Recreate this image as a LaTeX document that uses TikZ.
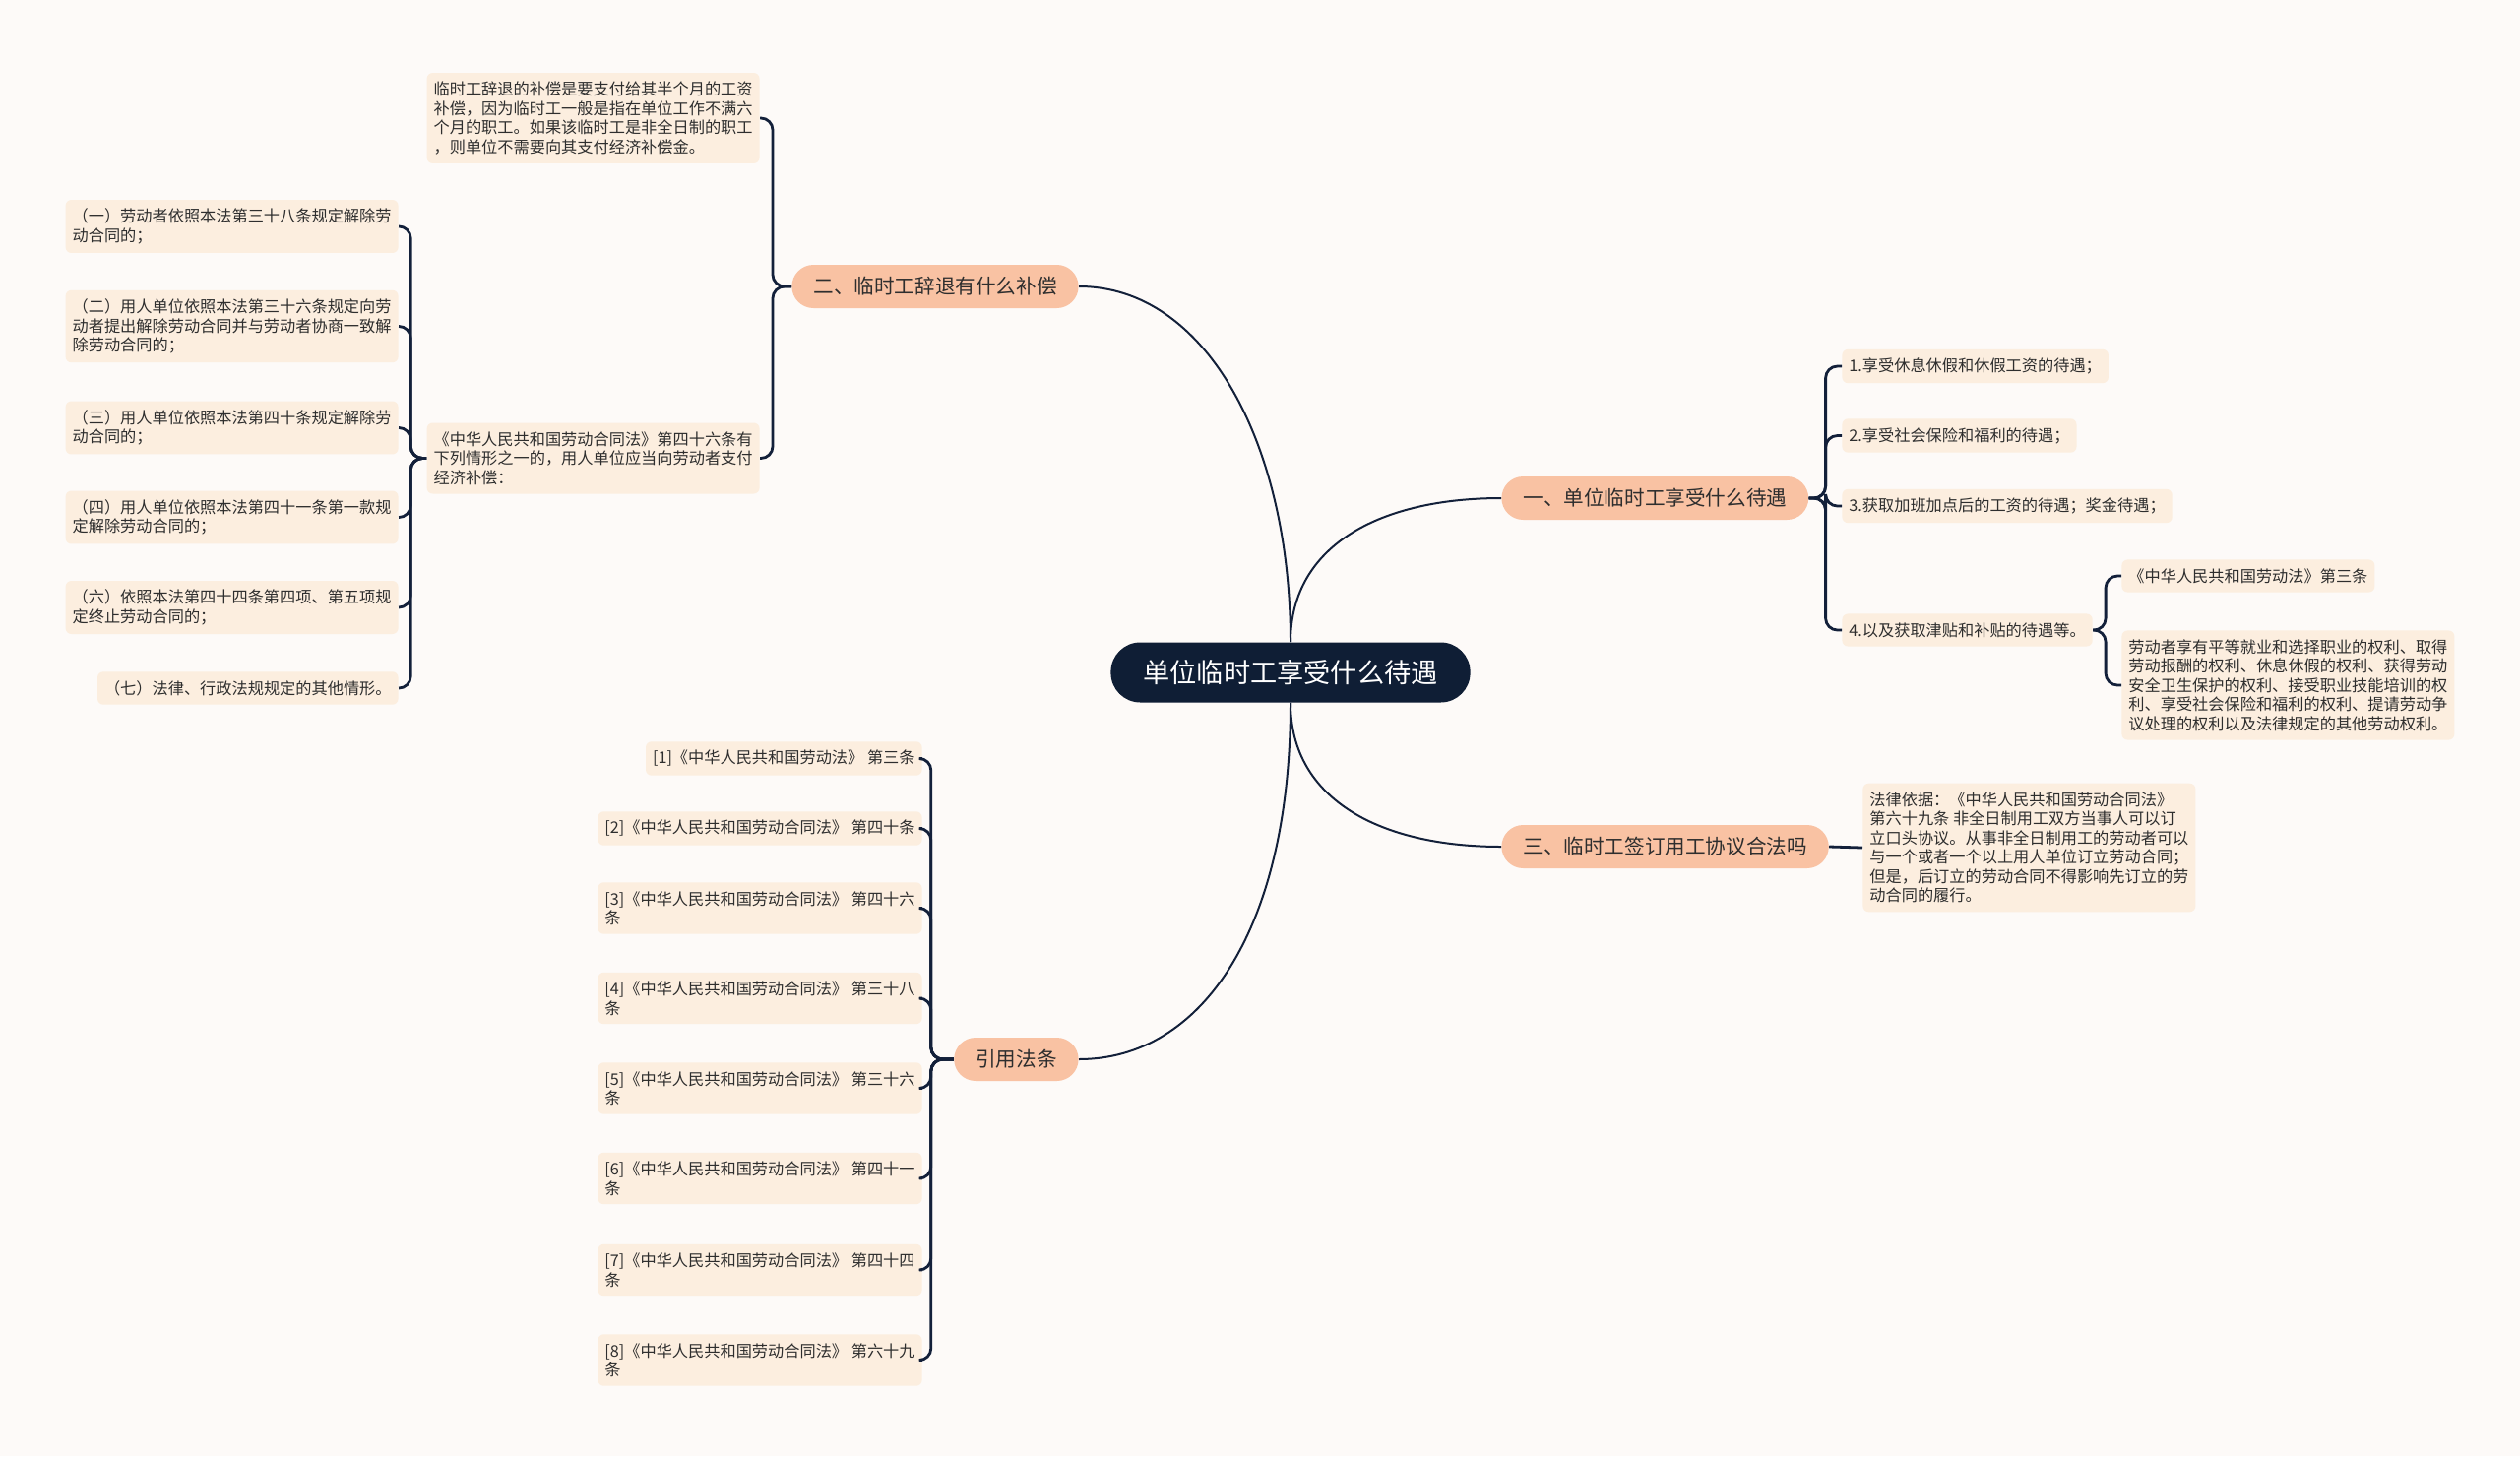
\documentclass[tikz,border=0pt]{standalone}
\usepackage{fontspec}
\setmainfont{Noto Sans CJK SC}
\definecolor{bgc}{HTML}{FDFAF8}
\definecolor{rootc}{HTML}{0F1E35}
\definecolor{branchc}{HTML}{F9C2A3}
\definecolor{leafc}{HTML}{FCEEDF}
\definecolor{linec}{HTML}{13203A}
\definecolor{textc}{HTML}{2E2E2E}
\tikzset{
  root/.style={fill=rootc, text=white, rounded corners=15pt, minimum height=30.5pt,
    inner xsep=16.5pt, font=\fontsize{13.6}{16}\selectfont},
  branch/.style={fill=branchc, text=textc, rounded corners=11pt, minimum height=22pt,
    inner xsep=11pt, font=\fontsize{10.3}{12}\selectfont},
  leaf/.style={fill=leafc, text=textc, rounded corners=3pt, inner xsep=3.5pt,
    inner ysep=4.5pt, align=left, font=\fontsize{8.1}{9.75}\selectfont},
  link/.style={draw=linec, line width=1pt},
  sublink/.style={draw=linec, line width=1.4pt, rounded corners=6pt}
}
\begin{document}
\begin{tikzpicture}[x=0.5pt, y=-0.5pt]
  \fill[bgc] (0,0) rectangle (2560,1479);
  \useasboundingbox (0,0) rectangle (2560,1479);

  % centre and main branches
  \node[root] (root) at (1311,683) {单位临时工享受什么待遇};
  \node[branch, anchor=east] (b2) at (1096,291) {二、临时工辞退有什么补偿};
  \node[branch, anchor=west] (b1) at (1525,506) {一、单位临时工享受什么待遇};
  \node[branch, anchor=west] (b3) at (1525,860) {三、临时工签订用工协议合法吗};
  \node[branch, anchor=east] (b4) at (1096,1076) {引用法条};

  % compensation
  \node[leaf, anchor=east] (l0) at (772,120) {临时工辞退的补偿是要支付给其半个月的工资\\补偿，因为临时工一般是指在单位工作不满六\\个月的职工。如果该临时工是非全日制的职工\\，则单位不需要向其支付经济补偿金。};
  \node[leaf, anchor=east] (l1) at (772,465.5) {《中华人民共和国劳动合同法》第四十六条有\\下列情形之一的，用人单位应当向劳动者支付\\经济补偿：};

  \node[leaf, anchor=east] (a1) at (405,230) {（一）劳动者依照本法第三十八条规定解除劳\\动合同的；};
  \node[leaf, anchor=east] (a2) at (405,331.5) {（二）用人单位依照本法第三十六条规定向劳\\动者提出解除劳动合同并与劳动者协商一致解\\除劳动合同的；};
  \node[leaf, anchor=east] (a3) at (405,434.5) {（三）用人单位依照本法第四十条规定解除劳\\动合同的；};
  \node[leaf, anchor=east] (a4) at (405,525.5) {（四）用人单位依照本法第四十一条第一款规\\定解除劳动合同的；};
  \node[leaf, anchor=east] (a6) at (405,617) {（六）依照本法第四十四条第四项、第五项规\\定终止劳动合同的；};
  \node[leaf, anchor=east] (a7) at (405,699) {（七）法律、行政法规规定的其他情形。};

  % treatment
  \node[leaf, anchor=west] (r1) at (1871,372) {1.享受休息休假和休假工资的待遇；};
  \node[leaf, anchor=west] (r2) at (1871,442.5) {2.享受社会保险和福利的待遇；};
  \node[leaf, anchor=west] (r3) at (1871,514) {3.获取加班加点后的工资的待遇；奖金待遇；};
  \node[leaf, anchor=west] (r4) at (1871,640) {4.以及获取津贴和补贴的待遇等。};
  \node[leaf, anchor=west] (r4a) at (2155,585) {《中华人民共和国劳动法》第三条};
  \node[leaf, anchor=west] (r4b) at (2155,696) {劳动者享有平等就业和选择职业的权利、取得\\劳动报酬的权利、休息休假的权利、获得劳动\\安全卫生保护的权利、接受职业技能培训的权\\利、享受社会保险和福利的权利、提请劳动争\\议处理的权利以及法律规定的其他劳动权利。};

  % agreement
  \node[leaf, anchor=west] (r5) at (1892,861) {法律依据：《中华人民共和国劳动合同法》\\第六十九条 非全日制用工双方当事人可以订\\立口头协议。从事非全日制用工的劳动者可以\\与一个或者一个以上用人单位订立劳动合同；\\但是，后订立的劳动合同不得影响先订立的劳\\动合同的履行。};

  % cited articles
  \node[leaf, anchor=east] (c1) at (937,770.5) {[1]《中华人民共和国劳动法》 第三条};
  \node[leaf, anchor=east] (c2) at (937,841.5) {[2]《中华人民共和国劳动合同法》 第四十条};
  \node[leaf, anchor=east] (c3) at (937,922.5) {[3]《中华人民共和国劳动合同法》 第四十六\\条};
  \node[leaf, anchor=east] (c4) at (937,1014) {[4]《中华人民共和国劳动合同法》 第三十八\\条};
  \node[leaf, anchor=east] (c5) at (937,1105.5) {[5]《中华人民共和国劳动合同法》 第三十六\\条};
  \node[leaf, anchor=east] (c6) at (937,1197) {[6]《中华人民共和国劳动合同法》 第四十一\\条};
  \node[leaf, anchor=east] (c7) at (937,1290) {[7]《中华人民共和国劳动合同法》 第四十四\\条};
  \node[leaf, anchor=east] (c8) at (937,1381.5) {[8]《中华人民共和国劳动合同法》 第六十九\\条};

  % connectors
  \draw[link] (root.north) .. controls +(0,-200) and +(130,0) .. (b2.east);
  \draw[link] (root.north) .. controls +(0,-100) and +(-120,0) .. (b1.west);
  \draw[link] (root.south) .. controls +(0,100) and +(-120,0) .. (b3.west);
  \draw[link] (root.south) .. controls +(0,230) and +(125,0) .. (b4.east);

  \foreach \n in {l0,l1}
    \draw[sublink] (b2.west) -- ++(-19,0) |- (\n.east);
  \foreach \n in {a1,a2,a3,a4,a6,a7}
    \draw[sublink] (l1.west) -- ++(-16,0) |- (\n.east);
  \foreach \n in {r1,r2,r3,r4}
    \draw[sublink] (b1.east) -- ++(17,0) |- (\n.west);
  \foreach \n in {r4a,r4b}
    \draw[sublink] (r4.east) -- ++(13,0) |- (\n.west);
  \draw[sublink] (b3.east) -- (r5.west);
  \foreach \n in {c1,c2,c3,c4,c5,c6,c7,c8}
    \draw[sublink] (b4.west) -- ++(-23,0) |- (\n.east);
\end{tikzpicture}
\end{document}
